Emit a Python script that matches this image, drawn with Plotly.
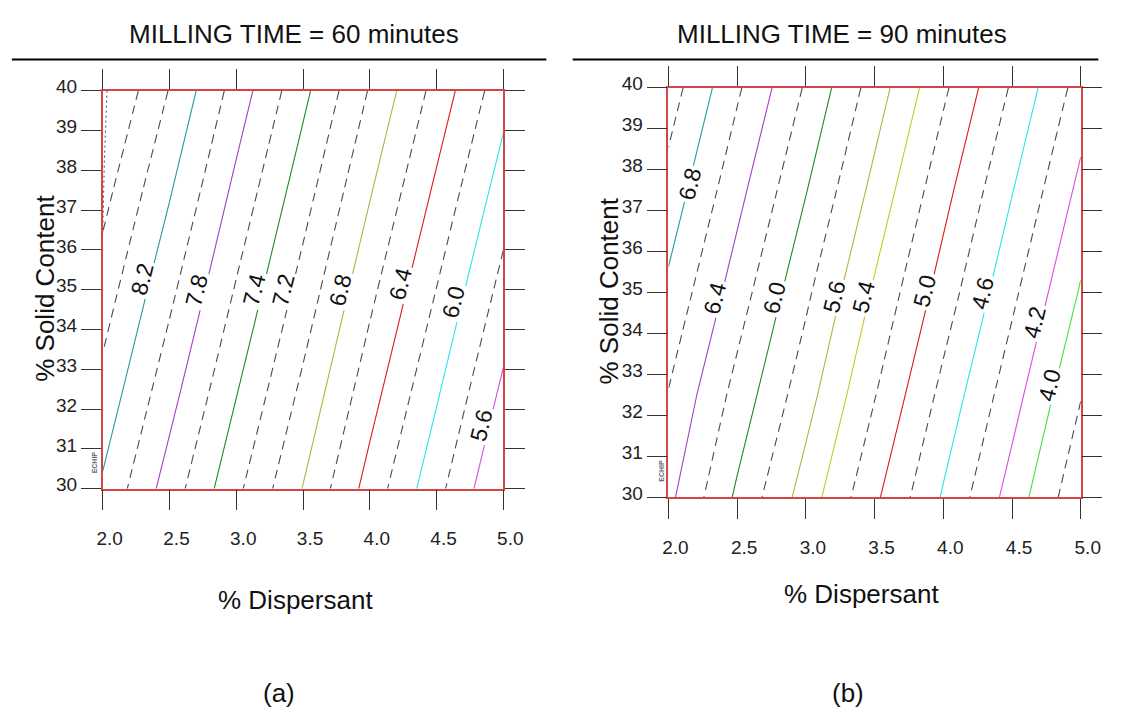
import numpy as np
import plotly.graph_objects as go

# Design region: % Dispersant (x) and % Solid Content (y)
dispersant = [2.0, 2.5, 3.0, 3.5, 4.0, 4.5, 5.0]
solid_content = [30.0, 32.5, 35.0, 37.5, 40.0]

# Predicted response, rows follow solid_content, columns follow dispersant
response_60 = [
    [8.17, 7.708, 7.248, 6.793, 6.322, 5.864, 5.393],
    [8.34, 7.88, 7.415, 6.958, 6.488, 6.03, 5.563],
    [8.505, 8.05, 7.582, 7.123, 6.653, 6.196, 5.733],
    [8.67, 8.22, 7.748, 7.288, 6.819, 6.362, 5.903],
    [8.84, 8.39, 7.915, 7.453, 6.984, 6.528, 6.073],
]
response_90 = [
    [6.45, 5.965, 5.509, 5.039, 4.578, 4.115, 3.646],
    [6.59, 6.13, 5.68, 5.21, 4.74, 4.28, 3.81],
    [6.757, 6.30, 5.84, 5.37, 4.91, 4.445, 3.98],
    [6.928, 6.465, 6.01, 5.54, 5.07, 4.61, 4.146],
    [7.10, 6.631, 6.176, 5.706, 5.238, 4.775, 4.313],
]

# Dotted limit line in the upper-left corner of the 60-minute map
limit_dispersant_60 = [2.032, 2.012, 2.0]
limit_solid_60 = [40.0, 38.2, 36.4]

# Contour levels (solid coloured, dashed) and labelled levels
solid_levels_60 = [8.2, 7.8, 7.4, 6.8, 6.4, 6.0, 5.6]
dashed_levels_60 = [8.6, 8.4, 8.0, 7.6, 7.2, 7.0, 6.6, 6.2, 5.8]
labeled_levels_60 = [8.2, 7.8, 7.4, 7.2, 6.8, 6.4, 6.0, 5.6]

solid_levels_90 = [6.8, 6.4, 6.0, 5.6, 5.4, 5.0, 4.6, 4.2, 4.0]
dashed_levels_90 = [7.0, 6.6, 6.2, 5.8, 5.2, 4.8, 4.4, 3.8]
labeled_levels_90 = [6.8, 6.4, 6.0, 5.6, 5.4, 5.0, 4.6, 4.2, 4.0]

x_ticks = [2.0, 2.5, 3.0, 3.5, 4.0, 4.5, 5.0]
y_ticks = [30, 31, 32, 33, 34, 35, 36, 37, 38, 39, 40]

# ---- styling ----
FONT = "Liberation Sans, Arial, sans-serif"
line_colors_60 = {8.2: "#1f9c9c", 7.8: "#a23fbf", 7.4: "#1e8a1e", 6.8: "#b5b43c",
                  6.4: "#e01818", 6.0: "#27e3f0", 5.6: "#e048e0"}
line_colors_90 = {6.8: "#1f9c9c", 6.4: "#a23fbf", 6.0: "#1e8a1e", 5.6: "#b5b43c",
                  5.4: "#c9c926", 5.0: "#e01818", 4.6: "#27e3f0", 4.2: "#e048e0",
                  4.0: "#3fe03f"}
# where along each line (in % Solid Content) its label sits
label_y_60 = {8.2: 35.27, 7.8: 34.98, 7.4: 34.98, 7.2: 34.98, 6.8: 34.98,
              6.4: 35.15, 6.0: 34.68, 5.6: 31.6}
label_y_90 = {6.8: 37.65, 6.4: 34.85, 6.0: 34.86, 5.6: 34.9, 5.4: 34.9,
              5.0: 35.05, 4.6: 34.98, 4.2: 34.27, 4.0: 32.75}
# labels sit slightly to the left of their line (pixels)
label_shift_60 = {}
label_shift_90 = {6.8: 1}
default_shift_60 = -8
default_shift_90 = -6

FRAME = "#d44545"
DASH_COLOR = "#4a4a4a"
DASH = "9px,6px"

fig = go.Figure()


def add_level(z, level, color, dash, xa, ya):
    fig.add_trace(go.Contour(
        x=dispersant, y=solid_content, z=z,
        contours=dict(start=level, end=level, size=1, coloring="none",
                      showlabels=False),
        line=dict(color=color, width=1.1, dash=dash, smoothing=0),
        showscale=False, hoverinfo="skip",
        xaxis=xa, yaxis=ya,
    ))


def level_x(z, level, y):
    """x position where the interpolated response equals level at row y."""
    zz = np.asarray(z, dtype=float)
    row = np.array([np.interp(y, solid_content, zz[:, j]) for j in range(zz.shape[1])])
    fine_x = np.linspace(dispersant[0], dispersant[-1], 601)
    fine_z = np.interp(fine_x, dispersant, row)
    return float(np.interp(level, fine_z[::-1], fine_x[::-1]))


panels = [
    (response_60, solid_levels_60, dashed_levels_60, labeled_levels_60,
     line_colors_60, label_y_60, label_shift_60, default_shift_60, "x", "y"),
    (response_90, solid_levels_90, dashed_levels_90, labeled_levels_90,
     line_colors_90, label_y_90, label_shift_90, default_shift_90, "x2", "y2"),
]

annotations = []
for z, solid, dashed, labeled, colors, lab_y, lab_dx, dx0, xa, ya in panels:
    for lv in dashed:
        add_level(z, lv, DASH_COLOR, DASH, xa, ya)
    for lv in solid:
        add_level(z, lv, colors[lv], "solid", xa, ya)
    for lv in labeled:
        yy = lab_y[lv]
        annotations.append(dict(
            x=level_x(z, lv, yy), y=yy, xref=xa, yref=ya,
            xshift=lab_dx.get(lv, dx0),
            text=f"{lv:.1f}", showarrow=False, textangle=-76,
            font=dict(family=FONT, size=23, color="#111"),
            bgcolor="white", borderpad=2,
        ))

fig.add_trace(go.Scatter(
    x=limit_dispersant_60, y=limit_solid_60, mode="lines",
    line=dict(color=DASH_COLOR, width=1, dash="2px,3px"),
    hoverinfo="skip", cliponaxis=True, xaxis="x", yaxis="y",
))

W, H = 1132, 716


def px_x(p):
    return p / W


def px_y(p):
    return 1 - p / H


axis_common = dict(
    showgrid=False, zeroline=False, showline=True, linecolor=FRAME, linewidth=1.5,
    mirror="ticks", ticks="outside", ticklen=20, tickcolor="#333", tickwidth=1,
    tickfont=dict(family=FONT, size=19, color="#222"),
)

fig.update_layout(
    width=W, height=H, autosize=False,
    margin=dict(l=0, r=0, t=0, b=0),
    paper_bgcolor="white", plot_bgcolor="white",
    showlegend=False,
    xaxis=dict(axis_common, domain=[px_x(99), px_x(509)], range=[2.0, 5.0],
               tickvals=x_ticks, tickformat=".1f", anchor="y",
               ticklabelstandoff=12, ticklabelshift=7),
    yaxis=dict(axis_common, domain=[px_y(489), px_y(79)], range=[30, 40],
               tickvals=y_ticks, anchor="x", ticklabelshift=-4),
    xaxis2=dict(axis_common, domain=[px_x(678), px_x(1100)], range=[2.0, 5.0],
                tickvals=x_ticks, tickformat=".1f", anchor="y2",
                ticklabelstandoff=12, ticklabelshift=7),
    yaxis2=dict(axis_common, domain=[px_y(498), px_y(76)], range=[30, 40],
                tickvals=y_ticks, anchor="x2", ticklabelshift=-4),
)

text_font = dict(family=FONT, size=26, color="#111")
page_texts = [
    ("MILLING TIME = 60 minutes", 295, 21, 0),
    ("MILLING TIME = 90 minutes", 856, 21, 0),
    ("% Dispersant", 296, 604, 0),
    ("% Dispersant", 876, 598, 0),
    ("% Solid Content", 40, 283, -90),
    ("% Solid Content", 617, 285, -90),
    ("(a)", 279, 700, 0),
    ("(b)", 862, 700, 0),
]
for txt, px, py, ang in page_texts:
    annotations.append(dict(
        x=px_x(px), y=px_y(py), xref="paper", yref="paper", text=txt,
        showarrow=False, textangle=ang, font=text_font,
        xanchor="center", yanchor="middle",
    ))

for px, py in [(91, 462), (671, 471)]:
    annotations.append(dict(
        x=px_x(px), y=px_y(py), xref="paper", yref="paper", text="<b>ECHIP</b>",
        showarrow=False, textangle=-90,
        font=dict(family=FONT, size=7, color="#666"),
        xanchor="center", yanchor="middle",
    ))

fig.update_layout(annotations=annotations)

# rules under the panel titles
fig.add_shape(type="line", xref="paper", yref="paper",
              x0=px_x(6), x1=px_x(553), y0=px_y(47), y1=px_y(47),
              line=dict(color="black", width=2))
fig.add_shape(type="line", xref="paper", yref="paper",
              x0=px_x(580), x1=px_x(1118), y0=px_y(47), y1=px_y(47),
              line=dict(color="black", width=2))

fig.write_html("out.html")
